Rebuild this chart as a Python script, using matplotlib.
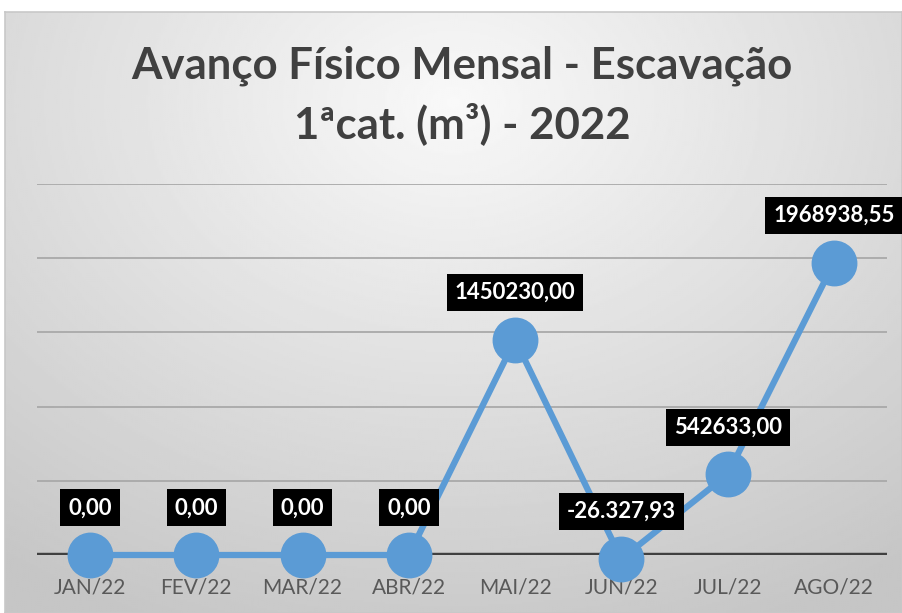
import matplotlib.pyplot as plt
import numpy as np

months = ['JAN/22', 'FEV/22', 'MAR/22', 'ABR/22', 'MAI/22', 'JUN/22', 'JUL/22', 'AGO/22']
values = [0.0, 0.0, 0.0, 0.0, 1450230.00, -26327.93, 542633.00, 1968938.55]
value_labels = ['0,00', '0,00', '0,00', '0,00', '1450230,00', '-26.327,93', '542633,00', '1968938,55']
grid_ticks = [0, 500000, 1000000, 1500000, 2000000, 2500000]

title = 'Avanço Físico Mensal - Escavação\n1ªcat. (m³) - 2022'
fonts = ['Lato', 'DejaVu Sans']

W, H = 902, 613
fig = plt.figure(figsize=(W / 100, H / 100), dpi=100)
fig.patch.set_facecolor('white')

# gradient background of the chart frame
bg = fig.add_axes([5 / W, 0, 1 - 5 / W, (H - 12) / H])
yy, xx = np.mgrid[0:1:300j, 0:1:450j]
r = np.sqrt(((xx - 0.5) * 1.0) ** 2 + ((yy - 0.15) * 0.9) ** 2)
r = np.clip(r / 0.85, 0, 1)
shade = 0.975 - 0.2 * r
bg.imshow(shade, cmap='gray', vmin=0, vmax=1, aspect='auto', extent=[0, 1, 1, 0])
bg.set_xlim(0, 1)
bg.set_ylim(1, 0)
bg.set_xticks([])
bg.set_yticks([])
for s in bg.spines.values():
    s.set_edgecolor('#c8c8c8')
    s.set_linewidth(1.2)

fig.text(462 / W, 1 - 95 / H, title, ha='center', va='center', fontsize=31.5,
         fontweight='bold', color='#404040', family=fonts, linespacing=1.45)

ax = fig.add_axes([37 / W, (H - 555) / H, 850 / W, (555 - 184) / H])
ax.patch.set_alpha(0)
x = np.arange(len(months))
ax.set_xlim(-0.5, len(months) - 0.5)
ax.set_ylim(0, 2500000)

for g in grid_ticks[1:]:
    ax.axhline(g, color='#a9a9a9', lw=1.3, zorder=1)
ax.axhline(0, color='#404040', lw=3.2, zorder=2)

ax.plot(x, values, color='#5b9bd5', lw=4.5, marker='o', markersize=32,
        markerfacecolor='#5b9bd5', markeredgecolor='#5b9bd5', clip_on=False, zorder=3)

for xi, v, lab in zip(x, values, value_labels):
    ax.annotate(lab, (xi, v), xytext=(0, 34), textcoords='offset points',
                ha='center', va='center', fontsize=16, fontweight='bold', color='white',
                family=fonts, annotation_clip=False,
                bbox=dict(boxstyle='square,pad=0.36', fc='black', ec='none'), zorder=4)

ax.set_xticks(x)
ax.set_xticklabels(months, fontsize=15, color='#595959', family=fonts)
ax.tick_params(axis='x', length=0, pad=16)
ax.set_yticks([])
for s in ax.spines.values():
    s.set_visible(False)

fig.savefig('out.png', dpi=100)
